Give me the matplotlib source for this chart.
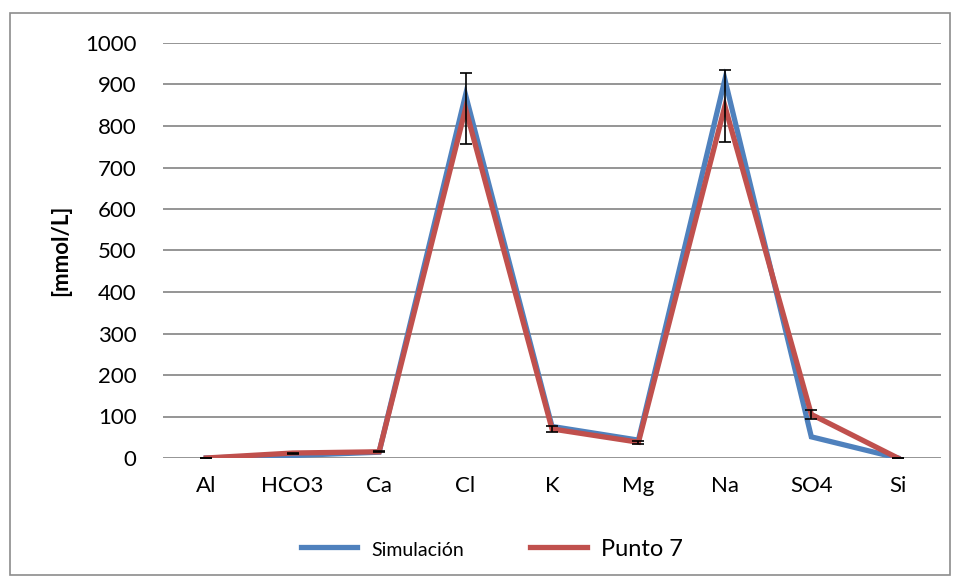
import matplotlib
matplotlib.use("Agg")
import matplotlib.pyplot as plt
from matplotlib.patches import Rectangle

# ion concentrations [mmol/L]
ions = ["Al", "HCO3", "Ca", "Cl", "K", "Mg", "Na", "SO4", "Si"]
simulacion = [0, 6, 14, 875, 76, 43, 912, 51, 0]
punto7 = [0, 12, 15, 842, 70, 38, 848, 105, 0]
punto7_err = [0, 1.2, 1.5, 85, 7, 4, 86, 10, 0]
yticks = list(range(0, 1001, 100))

plt.rcParams["font.family"] = ["Lato", "DejaVu Sans"]

fig = plt.figure(figsize=(9.57, 5.82), dpi=100)
ax = fig.add_axes([163 / 957, 1 - 458 / 582, (941 - 163) / 957, (458 - 43) / 582])

x = list(range(len(ions)))
ax.plot(x, simulacion, color="#4F81BD", lw=3.8, solid_joinstyle="miter", zorder=3, label="Simulación")
ax.plot(x, punto7, color="#C0504D", lw=3.8, solid_joinstyle="miter", zorder=4, label="Punto 7")
ax.errorbar(x, punto7, yerr=punto7_err, fmt="none", ecolor="black", elinewidth=1.2,
            capsize=4, capthick=1.2, zorder=5)

ax.set_xlim(-0.5, len(ions) - 0.5)
ax.set_ylim(0, 1000)
ax.set_yticks(yticks)
ax.set_xticks(x)
ax.set_xticklabels(ions)
ax.grid(axis="y", color="#8C8C8C", lw=1.3)
ax.set_axisbelow(True)
for s in ax.spines.values():
    s.set_visible(False)
ax.tick_params(axis="both", length=0, labelsize=16, colors="black")
ax.tick_params(axis="y", pad=19)
ax.tick_params(axis="x", pad=13)
ax.set_ylabel("[mmol/L]", fontsize=16, fontweight="bold", labelpad=10)

leg = fig.legend(loc="center", bbox_to_anchor=(492 / 957, 1 - 549 / 582), ncol=2,
                 frameon=False, fontsize=17, handlelength=2.4, columnspacing=2.8,
                 handletextpad=0.6)
leg.get_texts()[0].set_fontsize(14)

fig.patches.append(Rectangle((10 / 957, 7 / 582), 940 / 957, 562 / 582, transform=fig.transFigure,
                             fill=False, edgecolor="#8C8C8C", lw=1.2))

fig.savefig("out.png", dpi=100)
